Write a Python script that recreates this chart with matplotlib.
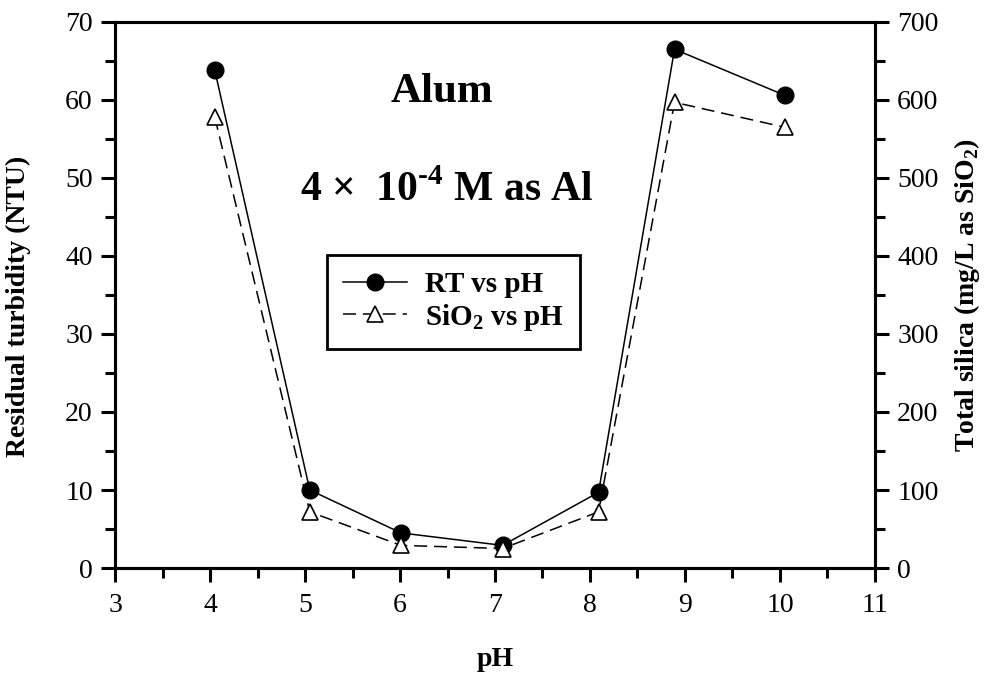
import matplotlib
matplotlib.use("Agg")
import matplotlib.pyplot as plt

plt.rcParams['font.family'] = ['Liberation Serif', 'DejaVu Serif']
plt.rcParams['mathtext.fontset'] = 'custom'
plt.rcParams['mathtext.rm'] = 'Liberation Serif:bold'
plt.rcParams['mathtext.bf'] = 'Liberation Serif:bold'

# pH of each jar test
ph = [4.05, 5.05, 6.01, 7.08, 8.09, 8.89, 10.05]
# residual turbidity, NTU
turbidity = [63.8, 10.0, 4.5, 2.9, 9.7, 66.5, 60.6]
# total silica, mg/L as SiO2
silica = [578, 72, 29, 25, 72, 597, 565]

x_ticks = [3, 4, 5, 6, 7, 8, 9, 10, 11]
y_ticks = [0, 10, 20, 30, 40, 50, 60, 70]
y2_ticks = [0, 100, 200, 300, 400, 500, 600, 700]

fig = plt.figure(figsize=(9.9, 6.86), dpi=100)
ax = fig.add_axes([0.1162, 0.172, 0.7676, 0.796])
ax2 = ax.twinx()

l1, = ax.plot(ph, turbidity, color='black', lw=1.1, marker='o', ms=12,
              mfc='black', mec='black', label='RT vs pH')
l2, = ax2.plot(ph, silica, color='black', lw=1.1, ls=(0, (8.5, 4.5)), marker='^',
               ms=12, mfc='white', mec='black', mew=1.2,
               label=r'SiO$_{2}$ vs pH')

ax.set_xlim(3, 11)
ax.set_ylim(0, 70)
ax2.set_ylim(0, 700)
ax.set_xticks(x_ticks)
ax.set_yticks(y_ticks)
ax2.set_yticks(y2_ticks)
ax.set_xticks([v + 0.5 for v in x_ticks[:-1]], minor=True)
ax.set_yticks([v + 5 for v in y_ticks[:-1]], minor=True)
ax2.set_yticks([v + 50 for v in y2_ticks[:-1]], minor=True)

for a in (ax, ax2):
    for s in a.spines.values():
        s.set_linewidth(2.2)
    a.tick_params(which='major', direction='out', length=10, width=2.2,
                  labelsize=20, pad=6)
    a.tick_params(which='minor', direction='out', length=7, width=2.2)
ax.tick_params(axis='x', pad=8)

ax.set_xlabel('pH', fontsize=20, fontweight='bold')
ax.xaxis.set_label_coords(0.5, -0.145)
ax.set_ylabel('Residual turbidity (NTU)', fontsize=20, fontweight='bold')
ax.yaxis.set_label_coords(-0.11, 0.48)
ax2.set_ylabel(r'Total silica (mg/L as SiO$_{2}$)', fontsize=20,
               fontweight='bold', labelpad=10)

ax.text(0.43, 0.872, 'Alum', transform=ax.transAxes, ha='center',
        va='center', fontsize=31, fontweight='bold')
ax.text(0.437, 0.692, r'4 ×  10$^{\text{-4}}$ M as Al', transform=ax.transAxes,
        ha='center', va='center', fontsize=30, fontweight='bold')

leg = ax2.legend(handles=[l1, l2], loc='upper left',
                 bbox_to_anchor=(0.279, 0.573), borderaxespad=0,
                 fancybox=False, edgecolor='black', framealpha=1,
                 handlelength=2.2, handletextpad=0.6, borderpad=0.55,
                 labelspacing=0.12, prop={'size': 21, 'weight': 'bold'})
leg.get_frame().set_linewidth(2)

fig.savefig('out.png', dpi=100)
